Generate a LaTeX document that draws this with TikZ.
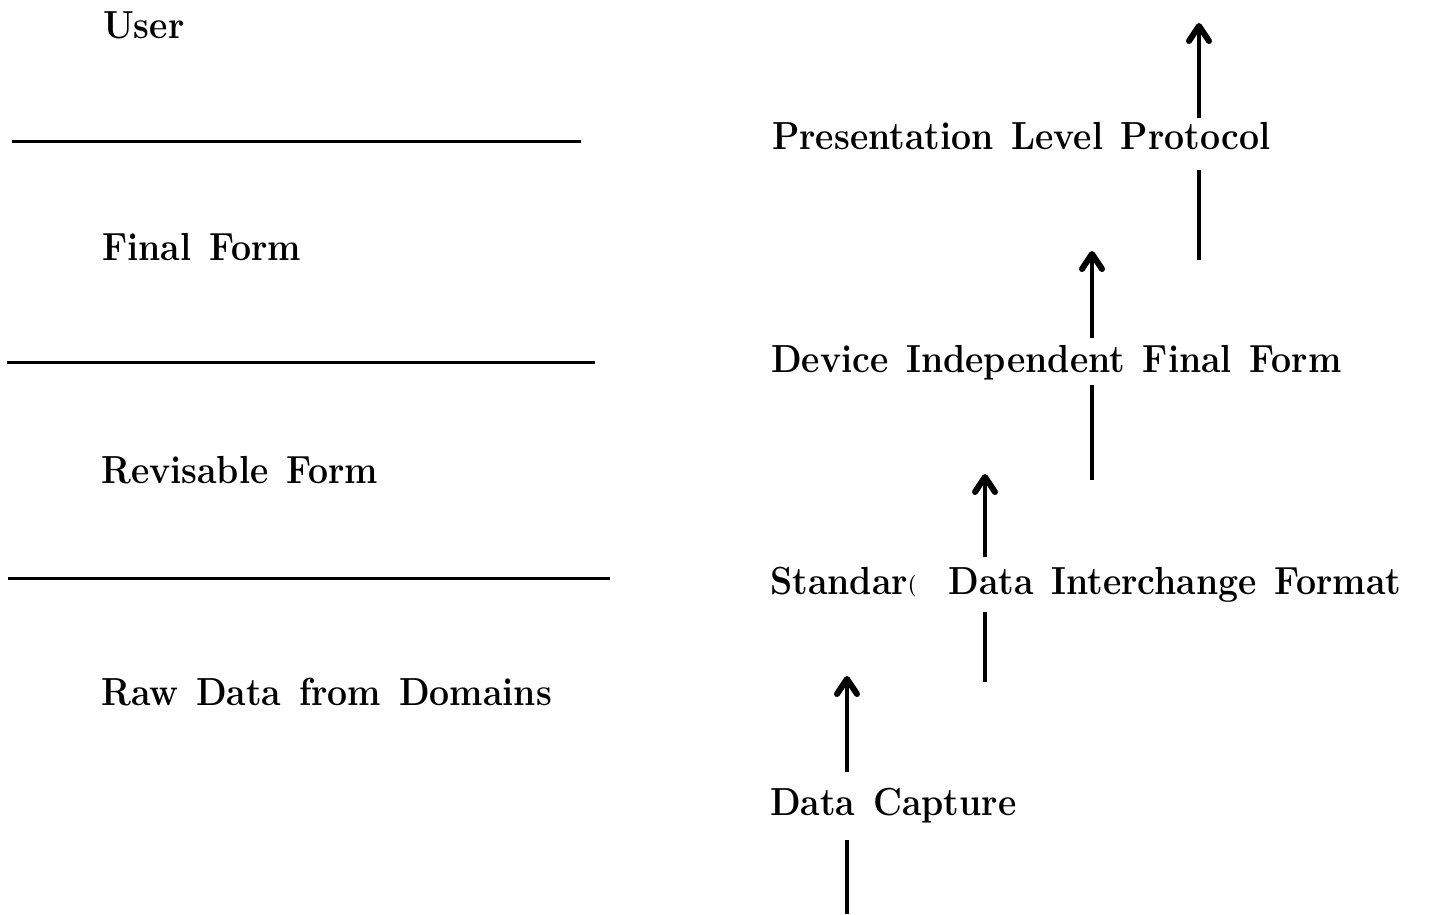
\documentclass[tikz,border=0pt]{standalone}
\usetikzlibrary{arrows.meta}
\newcommand{\tallify}[1]{\scalebox{1}[1.1]{#1}}
\begin{document}
\begin{tikzpicture}[x=1pt,y=-1pt,
  lbl/.style={anchor=base west,inner sep=0pt,font=\fontsize{35.6}{40}\selectfont\bfseries},
  rule/.style={line width=3pt},
  seg/.style={line width=3.6pt},
  arr/.style={line width=3.6pt,-{Straight Barb[length=15pt,width=20pt,line width=6pt,round]}}]
\useasboundingbox (0,0) rectangle (1429,914);
% left column
\node[lbl] (user) at (103,38) {\tallify{User}};
\node[lbl] (final) at (102,260) {\tallify{Final\hspace{0.5em}Form}};
\node[lbl] (revis) at (101,483) {\tallify{Revisable\hspace{0.5em}Form}};
\node[lbl] (raw) at (101,705) {\tallify{Raw\hspace{0.5em}Data\hspace{0.5em}from\hspace{0.5em}Domains}};
\coordinate (l1a) at (12,141); \coordinate (l1b) at (581,141);
\coordinate (l2a) at (7,362); \coordinate (l2b) at (595,362);
\coordinate (l3a) at (8,578); \coordinate (l3b) at (610,578);
\draw[rule] (l1a) -- (l1b);
\draw[rule] (l2a) -- (l2b);
\draw[rule] (l3a) -- (l3b);
% right column
\node[lbl] (plp) at (772,149) {\tallify{Presentation\hspace{0.5em}Level\hspace{0.5em}Protocol}};
\node[lbl] (diff) at (771,372) {\tallify{Device\hspace{0.5em}Independent\hspace{0.5em}Final\hspace{0.5em}Form}};
\node[lbl] (sdif) at (770,594) {\tallify{Standar{\raisebox{2pt}{\scalebox{0.55}{(}}}\hspace{0.9em}Data\hspace{0.5em}Interchange\hspace{0.5em}Format}};
\node[lbl] (dc) at (770,815) {\tallify{Data\hspace{0.5em}Capture}};
% arrows
\coordinate (a1s) at (847,914); \coordinate (a1e) at (847,840);
\coordinate (a1f) at (847,772); \coordinate (a1t) at (847,676);
\coordinate (a2s) at (985,682); \coordinate (a2e) at (985,612);
\coordinate (a2f) at (985,557); \coordinate (a2t) at (985,474);
\coordinate (a3s) at (1092,480); \coordinate (a3e) at (1092,385);
\coordinate (a3f) at (1092,338); \coordinate (a3t) at (1092,251);
\coordinate (a4s) at (1199,260); \coordinate (a4e) at (1199,170);
\coordinate (a4f) at (1199,118); \coordinate (a4t) at (1199,23);
\draw[seg] (a1s) -- (a1e); \draw[arr] (a1f) -- (a1t);
\draw[seg] (a2s) -- (a2e); \draw[arr] (a2f) -- (a2t);
\draw[seg] (a3s) -- (a3e); \draw[arr] (a3f) -- (a3t);
\draw[seg] (a4s) -- (a4e); \draw[arr] (a4f) -- (a4t);
\end{tikzpicture}
\end{document}
